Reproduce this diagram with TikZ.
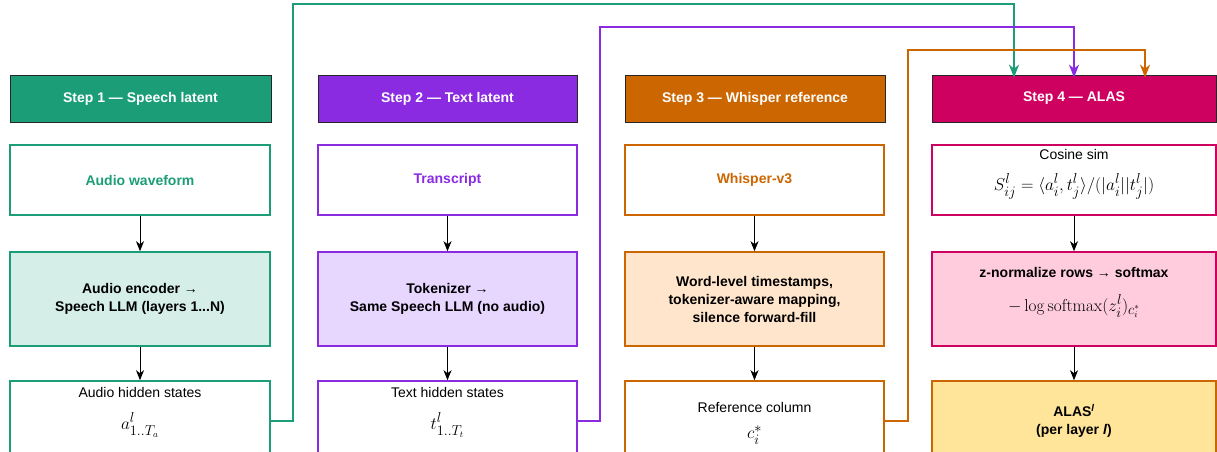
\documentclass[tikz,border=0pt]{standalone}
\usepackage[no-math]{fontspec}
\setmainfont{Liberation Sans}
\usepackage{amsmath}
\usetikzlibrary{arrows.meta}

\definecolor{sgreen}{RGB}{27,158,119}
\definecolor{spurple}{RGB}{138,43,226}
\definecolor{sorange}{RGB}{204,102,0}
\definecolor{spink}{RGB}{206,0,96}
\definecolor{fgreen}{RGB}{213,238,232}
\definecolor{fpurple}{RGB}{231,215,255}
\definecolor{forange}{RGB}{255,229,204}
\definecolor{fpink}{RGB}{255,204,222}
\definecolor{fyellow}{RGB}{255,229,153}

\newcommand{\bigmath}[1]{{\fontsize{19}{22}\selectfont$#1$}}

\tikzset{
  hdr/.style={draw=black!85, line width=0.8pt, text=white, minimum height=47pt,
    inner sep=0pt, font=\bfseries\fontsize{14}{16}\selectfont},
  stagebox/.style={draw, line width=1.6pt, align=center, inner sep=0pt,
    font=\fontsize{14}{18}\selectfont},
  boldbox/.style={stagebox, font=\bfseries\fontsize{14}{18}\selectfont},
  flow/.style={line width=1.6pt, -{Stealth[length=13pt,width=10pt,inset=4pt]}},
  link/.style={line width=0.8pt, -{Stealth[length=10pt,width=8pt,inset=3pt]}}
}

\begin{document}
\begin{tikzpicture}[x=1pt, y=-1pt]
				\useasboundingbox (0,0) rectangle (1217,452);
				
				% Step 1 column
				\node[hdr, fill=sgreen, minimum width=261pt] (h1) at (140.5,98.5) {Step 1 — Speech latent};
				\node[boldbox, draw=sgreen, text=sgreen, minimum width=260pt, minimum height=70pt] (in1) at (140,180) {Audio waveform};
				\node[boldbox, draw=sgreen, fill=fgreen, minimum width=260pt, minimum height=94pt] (enc1) at (140,299)
				  {Audio encoder →\\Speech LLM (layers 1...N)};
				\node[stagebox, draw=sgreen, minimum width=260pt, minimum height=80pt] (out1) at (140,421)
				  {Audio hidden states\\[14pt] \bigmath{a^l_{1..T_a}}\\[8pt]};
				
				% Step 2 column
				\node[hdr, fill=spurple, minimum width=259pt] (h2) at (447.5,98.5) {Step 2 — Text latent};
				\node[boldbox, draw=spurple, text=spurple, minimum width=259pt, minimum height=70pt] (in2) at (447.5,180) {Transcript};
				\node[boldbox, draw=spurple, fill=fpurple, minimum width=259pt, minimum height=94pt] (enc2) at (447.5,299)
				  {Tokenizer →\\Same Speech LLM (no audio)};
				\node[stagebox, draw=spurple, minimum width=259pt, minimum height=80pt] (out2) at (447.5,421)
				  {Text hidden states\\[14pt] \bigmath{t^l_{1..T_t}}\\[8pt]};
				
				% Step 3 column
				\node[hdr, fill=sorange, minimum width=260pt] (h3) at (755,98.5) {Step 3 — Whisper reference};
				\node[boldbox, draw=sorange, text=sorange, minimum width=259pt, minimum height=70pt] (in3) at (754.5,180) {Whisper-v3};
				\node[boldbox, draw=sorange, fill=forange, minimum width=259pt, minimum height=94pt] (enc3) at (754.5,299)
				  {Word-level timestamps,\\tokenizer-aware mapping,\\silence forward-fill};
				\node[stagebox, draw=sorange, minimum width=259pt, minimum height=80pt] (out3) at (754.5,421)
				  {\rule{0pt}{15pt}Reference column\\[8pt] \bigmath{c^*_i}};
				
				% Step 4 column
				\node[hdr, fill=spink, minimum width=284pt] (h4) at (1074,98.5) {Step 4 — ALAS};
				\node[stagebox, draw=spink, minimum width=284pt, minimum height=70pt] (sim4) at (1074,180)
				  {Cosine sim\\[13pt] \bigmath{S^l_{ij}=\langle a^l_i,t^l_j\rangle/(|a^l_i||t^l_j|)}\\[3pt]};
				\node[stagebox, draw=spink, fill=fpink, minimum width=284pt, minimum height=94pt] (norm4) at (1074,299)
				  {\textbf{z-normalize rows → softmax}\\[16pt] \bigmath{-\log\operatorname{softmax}(z^l_i)_{c^*_i}}\\[2pt]};
				\node[boldbox, draw=sorange, fill=fyellow, minimum width=284pt, minimum height=80pt] (alas4) at (1074,421)
				  {ALAS\textsuperscript{\itshape l}\\(per layer \textit{l})};
				
				% Arrows inside each column
				\foreach \c/\a/\b in {1/in/enc, 1/enc/out, 2/in/enc, 2/enc/out, 3/in/enc, 3/enc/out}
				  \draw[link] (\a\c) -- (\b\c);
				\draw[link] (sim4) -- (norm4);
				\draw[link] (norm4) -- (alas4);
				
				% Outputs routed over the top into Step 4
				\coordinate (g4) at ([xshift=-60pt, yshift=-3pt]h4.north);
				\coordinate (p4) at ([yshift=-3pt]h4.north);
				\coordinate (o4) at ([xshift=71pt, yshift=-3pt]h4.north);
				\draw[flow, sgreen] (out1.east) -| (293,4) -| (g4);
				\draw[flow, spurple] (out2.east) -| (600,27) -| (p4);
				\draw[flow, sorange] (out3.east) -| (908,50) -| (o4);
			\end{tikzpicture}
\end{document}
